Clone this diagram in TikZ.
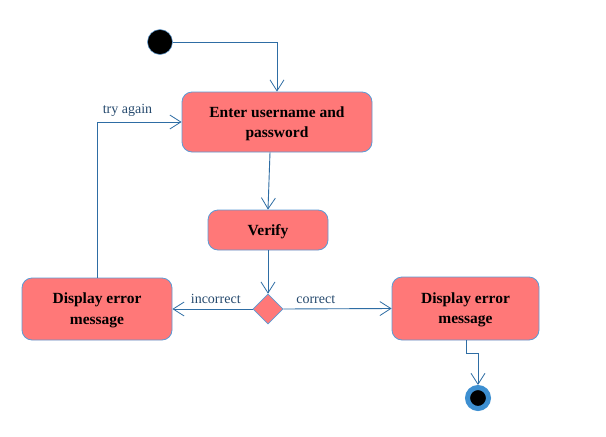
\documentclass[tikz,border=0pt]{standalone}
\usepackage{fontspec}
\setmainfont{Liberation Serif}
\usetikzlibrary{arrows.meta,shapes.geometric,calc}
\definecolor{boxfill}{HTML}{FF7878}
\definecolor{boxline}{HTML}{5B9BD5}
\definecolor{conn}{HTML}{2E6DA4}
\definecolor{lbl}{HTML}{264A6E}
\definecolor{ring}{HTML}{3D8FD1}
\begin{document}
\begin{tikzpicture}[x=1pt,y=-1pt,
  act/.style={draw=boxline,fill=boxfill,rounded corners=10pt,line width=0.8pt,inner sep=0pt},
  acttext/.style={align=center,font=\fontsize{15.5}{20.5}\selectfont\bfseries,inner sep=0pt},
  conline/.style={draw=conn,line width=0.9pt,-{Straight Barb[length=11pt,width=14pt,line width=0.8pt]}},
  lab/.style={font=\fontsize{14}{15}\selectfont,text=lbl,inner sep=1pt}]
\useasboundingbox[fill=white] (0,0) rectangle (606,437);
\node[circle,fill=black,draw=boxline,line width=0.5pt,minimum size=25pt,inner sep=0pt] (start) at (160,42) {};
\node[act,minimum width=190pt,minimum height=60pt] (enter) at (277,122) {};
\node[acttext] (enterT) at ($(enter.center)+(0,2)$) {Enter username and\\password};
\node[act,minimum width=120pt,minimum height=40pt] (verify) at (268,230) {};
\node[acttext] (verifyT) at ($(verify.center)+(0,2)$) {Verify};
\node[diamond,draw=boxline,fill=boxfill,line width=0.6pt,minimum width=30pt,minimum height=30pt,inner sep=0pt] (dec) at (268,309) {};
\node[act,minimum width=150pt,minimum height=62pt] (errl) at (97,309) {};
\node[acttext] (errlT) at ($(errl.center)+(0,1.5)$) {Display error\\message};
\node[act,minimum width=147pt,minimum height=63pt] (errr) at (465.5,308.5) {};
\node[acttext] (errrT) at ($(errr.center)+(0,1.5)$) {Display error\\message};
\node[circle,fill=black,draw=ring,line width=5pt,minimum size=21pt,inner sep=0pt] (end) at (478,398) {};
\coordinate (b1) at (466,353);
\coordinate (b2) at (478,353);
\draw[conline] (start.east) -| (enter.north);
\draw[conline] ($(enter.south)+(-7,0)$) -- (verify.north);
\draw[conline] (verify.south) -- (dec.north);
\draw[conline] (dec.west) -- node[lab,above,pos=0.46,yshift=4pt]{incorrect} (errl.east);
\draw[conline] (dec.east) -- node[lab,above,pos=0.3,yshift=4pt]{correct} (errr.west);
\draw[conline] (errl.north) |- node[lab,above,pos=0.68,yshift=4pt]{try again} (enter.west);
\draw[conline] ($(errr.south)+(0.5,0)$) -- (b1) -- (b2) -- (end.north);
\end{tikzpicture}
\end{document}
